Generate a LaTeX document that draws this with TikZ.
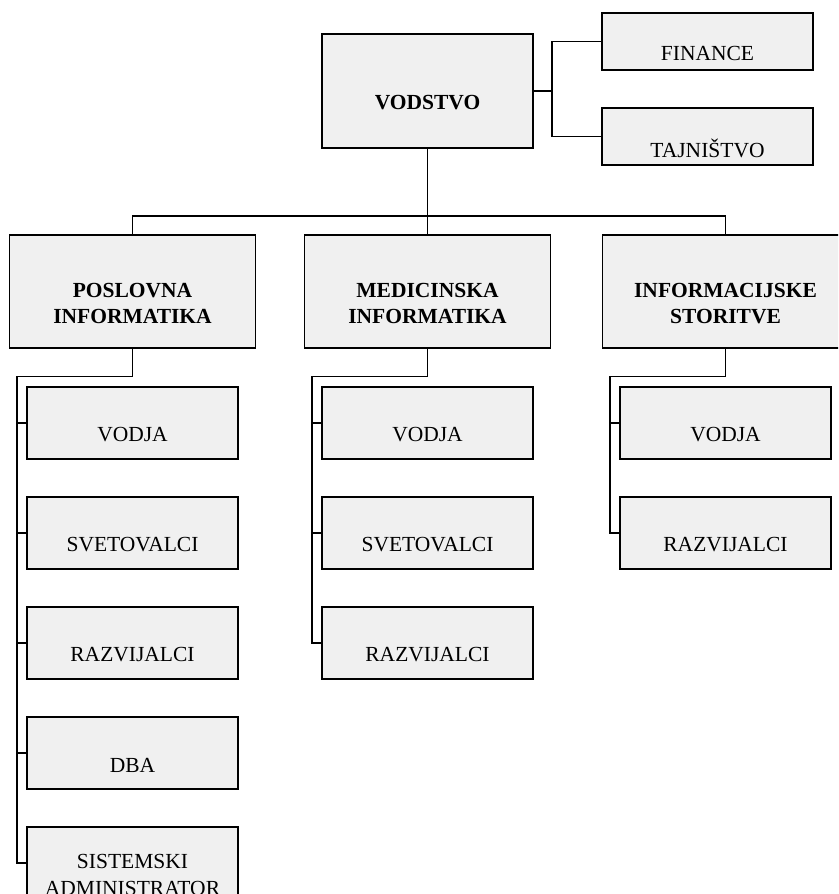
\documentclass[tikz,border=0pt]{standalone}
\usepackage{fontspec}
\setmainfont{Liberation Serif}
\usetikzlibrary{positioning}
\definecolor{boxfill}{HTML}{F0F0F0}
\tikzset{
  orgbox/.style={draw, line width=1.7pt, fill=boxfill, inner sep=0pt, outer sep=0pt,
    minimum width=211pt, minimum height=72pt},
  lbl/.style={yshift=-12pt, align=center, font=\fontsize{21.5}{26.5}\selectfont},
  boldlbl/.style={lbl, font=\fontsize{21.5}{26.5}\selectfont\bfseries},
  unit/.style={orgbox, label={[lbl]center:#1}},
  head/.style={orgbox, minimum width=246pt, minimum height=113pt,
    label={[boldlbl]center:#1}},
  link/.style={line width=1.7pt}
}
\begin{document}
\begin{tikzpicture}[x=1pt, y=-1pt, node distance=38pt]
  \useasboundingbox (0,0) rectangle (838,894);
  \clip (0,0) rectangle (838,894);
  % vodstvo and staff
  \node[head=VODSTVO, minimum width=211pt, minimum height=114pt] (vod) at (427.5,91) {};
  \node[unit=FINANCE, minimum height=57pt] (fin) at (707.5,41.5) {};
  \node[unit=TAJNIŠTVO, minimum height=57pt, below=of fin] (taj) {};
  % departments
  \node[head={MEDICINSKA\\INFORMATIKA}, below=87pt of vod] (mi) {};
  \node[head={POSLOVNA\\INFORMATIKA}, left=49pt of mi] (pi) {};
  \node[head={INFORMACIJSKE\\STORITVE}, right=52pt of mi] (is) {};
  % poslovna informatika
  \node[unit=VODJA, below=39pt of pi] (pi1) {};
  \node[unit=SVETOVALCI, below=of pi1] (pi2) {};
  \node[unit=RAZVIJALCI, below=of pi2] (pi3) {};
  \node[unit=DBA, below=of pi3] (pi4) {};
  \node[unit={SISTEMSKI\\ADMINISTRATOR}, below=of pi4] (pi5) {};
  % medicinska informatika
  \node[unit=VODJA, below=39pt of mi] (mi1) {};
  \node[unit=SVETOVALCI, below=of mi1] (mi2) {};
  \node[unit=RAZVIJALCI, below=of mi2] (mi3) {};
  % informacijske storitve
  \node[unit=VODJA, below=39pt of is] (is1) {};
  \node[unit=RAZVIJALCI, below=of is1] (is2) {};

  % connectors
  \draw[link] (vod.east) -- ++(19,0) coordinate (vodr) |- (fin.west);
  \draw[link] (vodr) |- (taj.west);
  \draw[link] (vod.south) -- (mi.north);
  \draw[link] (pi.north) -- ++(0,-19) -| (is.north);
  \draw[link] (pi.south) -- ++(0,28.5) -| ([xshift=-10pt]pi5.west) -- (pi5.west);
  \foreach \n in {1,...,4}
    \draw[link] (pi\n.west) -- ++(-10,0);
  \draw[link] (mi.south) -- ++(0,28.5) -| ([xshift=-10pt]mi3.west) -- (mi3.west);
  \foreach \n in {1,2}
    \draw[link] (mi\n.west) -- ++(-10,0);
  \draw[link] (is.south) -- ++(0,28.5) -| ([xshift=-10pt]is2.west) -- (is2.west);
  \draw[link] (is1.west) -- ++(-10,0);
\end{tikzpicture}
\end{document}
